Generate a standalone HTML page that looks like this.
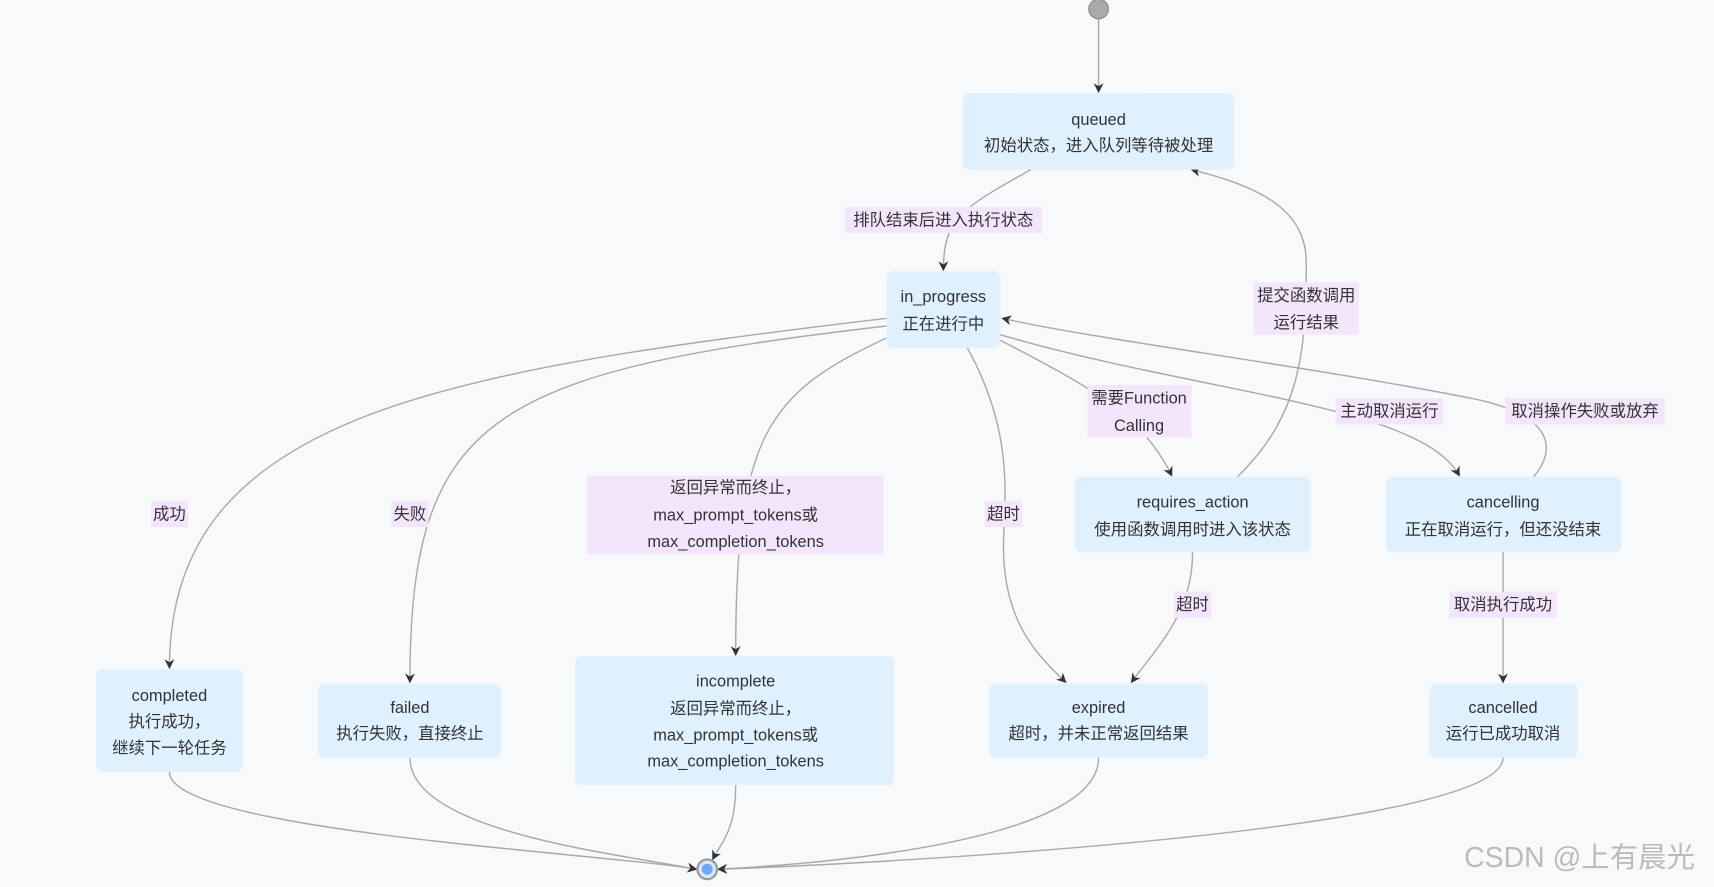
<!DOCTYPE html>
<html><head><meta charset="utf-8"><style>
html,body{margin:0;padding:0;background:#f8f9fb;}
svg{display:block}
text{font-family:"Liberation Sans","Noto Sans CJK SC",sans-serif;font-size:15px;fill:#333;text-anchor:middle;}
.n{fill:#dff0fe;}
.e{fill:none;stroke:#a9a9a9;stroke-width:1.3;}
.l{fill:#f3e6fc;}
</style></head><body>
<svg width="1714" height="887" viewBox="0 0 1568 811" xmlns="http://www.w3.org/2000/svg">
<defs><marker id="a" viewBox="0 0 10 10" refX="9" refY="5" markerWidth="9" markerHeight="9" orient="auto-start-reverse" markerUnits="userSpaceOnUse"><path d="M0,0 L10,5 L0,10 L3,5 z" fill="#333"/></marker></defs>
<rect width="1568" height="811" fill="#f8f9fb"/>
<!-- edges -->
<path class="e" d="M1005,17 L1005,84" marker-end="url(#a)"/>
<path class="e" d="M943,155 C880,190 863,200 863,247" marker-end="url(#a)"/>
<path class="e" d="M811,291 C400,340 155,380 155,611" marker-end="url(#a)"/>
<path class="e" d="M811,298 C450,340 375,380 375,624" marker-end="url(#a)"/>
<path class="e" d="M811,309 C700,360 673,400 673,599" marker-end="url(#a)"/>
<path class="e" d="M885,318 C930,400 918,460 918,500 C918,570 950,600 975,624" marker-end="url(#a)"/>
<path class="e" d="M915,311 C1000,355 1045,380 1072,435" marker-end="url(#a)"/>
<path class="e" d="M1132,436 C1190,380 1195,320 1195,240 C1195,190 1150,170 1090,155" marker-end="url(#a)"/>
<path class="e" d="M915,306 C1100,360 1300,370 1335,435" marker-end="url(#a)"/>
<path class="e" d="M1403,436 C1425,410 1420,380 1350,365 C1200,335 1000,310 917,291" marker-end="url(#a)"/>
<path class="e" d="M1091,505 C1091,560 1060,590 1035,624" marker-end="url(#a)"/>
<path class="e" d="M1375,505 L1375,624" marker-end="url(#a)"/>
<path class="e" d="M155,706 C155,760 550,780 637,795" marker-end="url(#a)"/>
<path class="e" d="M375,693 C375,760 560,780 637,795" marker-end="url(#a)"/>
<path class="e" d="M673,718 C673,760 660,770 652,786" marker-end="url(#a)"/>
<path class="e" d="M1005,693 C1005,770 750,790 657,795" marker-end="url(#a)"/>
<path class="e" d="M1375,693 C1375,760 800,790 657,795" marker-end="url(#a)"/>
<!-- start / end -->
<circle cx="1005" cy="8" r="9" fill="#aaa" stroke="#888"/>
<circle cx="647" cy="795" r="9" fill="#d8e8f5" stroke="#999" stroke-width="2"/>
<circle cx="647" cy="795" r="5" fill="#6ea8f7"/>
<!-- nodes -->
<rect class="n" x="881" y="85" width="248" height="70" rx="6"/>
<text x="1005" y="114">queued</text><text x="1005" y="138">初始状态，进入队列等待被处理</text>
<rect class="n" x="811" y="248" width="104" height="70" rx="6"/>
<text x="863" y="276">in_progress</text><text x="863" y="301">正在进行中</text>
<rect class="n" x="88" y="612" width="134" height="94" rx="6"/>
<text x="155" y="641">completed</text><text x="155" y="665">执行成功，</text><text x="155" y="689">继续下一轮任务</text>
<rect class="n" x="291" y="625" width="167" height="68" rx="6"/>
<text x="375" y="652">failed</text><text x="375" y="676">执行失败，直接终止</text>
<rect class="n" x="526" y="600" width="292" height="118" rx="6"/>
<text x="673" y="628">incomplete</text><text x="673" y="653">返回异常而终止，</text><text x="673" y="677">max_prompt_tokens或</text><text x="673" y="701">max_completion_tokens</text>
<rect class="n" x="905" y="625" width="200" height="68" rx="6"/>
<text x="1005" y="652">expired</text><text x="1005" y="676">超时，并未正常返回结果</text>
<rect class="n" x="983" y="436" width="216" height="69" rx="6"/>
<text x="1091" y="464">requires_action</text><text x="1091" y="489">使用函数调用时进入该状态</text>
<rect class="n" x="1268" y="436" width="215" height="69" rx="6"/>
<text x="1375" y="464">cancelling</text><text x="1375" y="489">正在取消运行，但还没结束</text>
<rect class="n" x="1308" y="625" width="135" height="68" rx="6"/>
<text x="1375" y="652">cancelled</text><text x="1375" y="676">运行已成功取消</text>
<!-- labels -->
<rect class="l" x="773" y="189" width="180" height="24"/><text x="863" y="206">排队结束后进入执行状态</text>
<rect class="l" x="1147" y="258" width="96" height="48"/><text x="1195" y="275">提交函数调用</text><text x="1195" y="300">运行结果</text>
<rect class="l" x="995" y="352" width="95" height="48"/><text x="1042" y="369">需要Function</text><text x="1042" y="394">Calling</text>
<rect class="l" x="1222" y="364" width="98" height="24"/><text x="1271" y="381">主动取消运行</text>
<rect class="l" x="1377" y="364" width="146" height="24"/><text x="1450" y="381">取消操作失败或放弃</text>
<rect class="l" x="138" y="458" width="34" height="24"/><text x="155" y="475">成功</text>
<rect class="l" x="358" y="458" width="34" height="24"/><text x="375" y="475">失败</text>
<rect class="l" x="901" y="458" width="34" height="24"/><text x="918" y="475">超时</text>
<rect class="l" x="537" y="435" width="271" height="72"/><text x="673" y="451">返回异常而终止，</text><text x="673" y="476">max_prompt_tokens或</text><text x="673" y="500">max_completion_tokens</text>
<rect class="l" x="1074" y="541" width="34" height="24"/><text x="1091" y="558">超时</text>
<rect class="l" x="1326" y="541" width="98" height="24"/><text x="1375" y="558">取消执行成功</text>
<text x="1445" y="793" style="font-size:26px;fill:#bbb;">CSDN @上有晨光</text>
</svg>
</body></html>
